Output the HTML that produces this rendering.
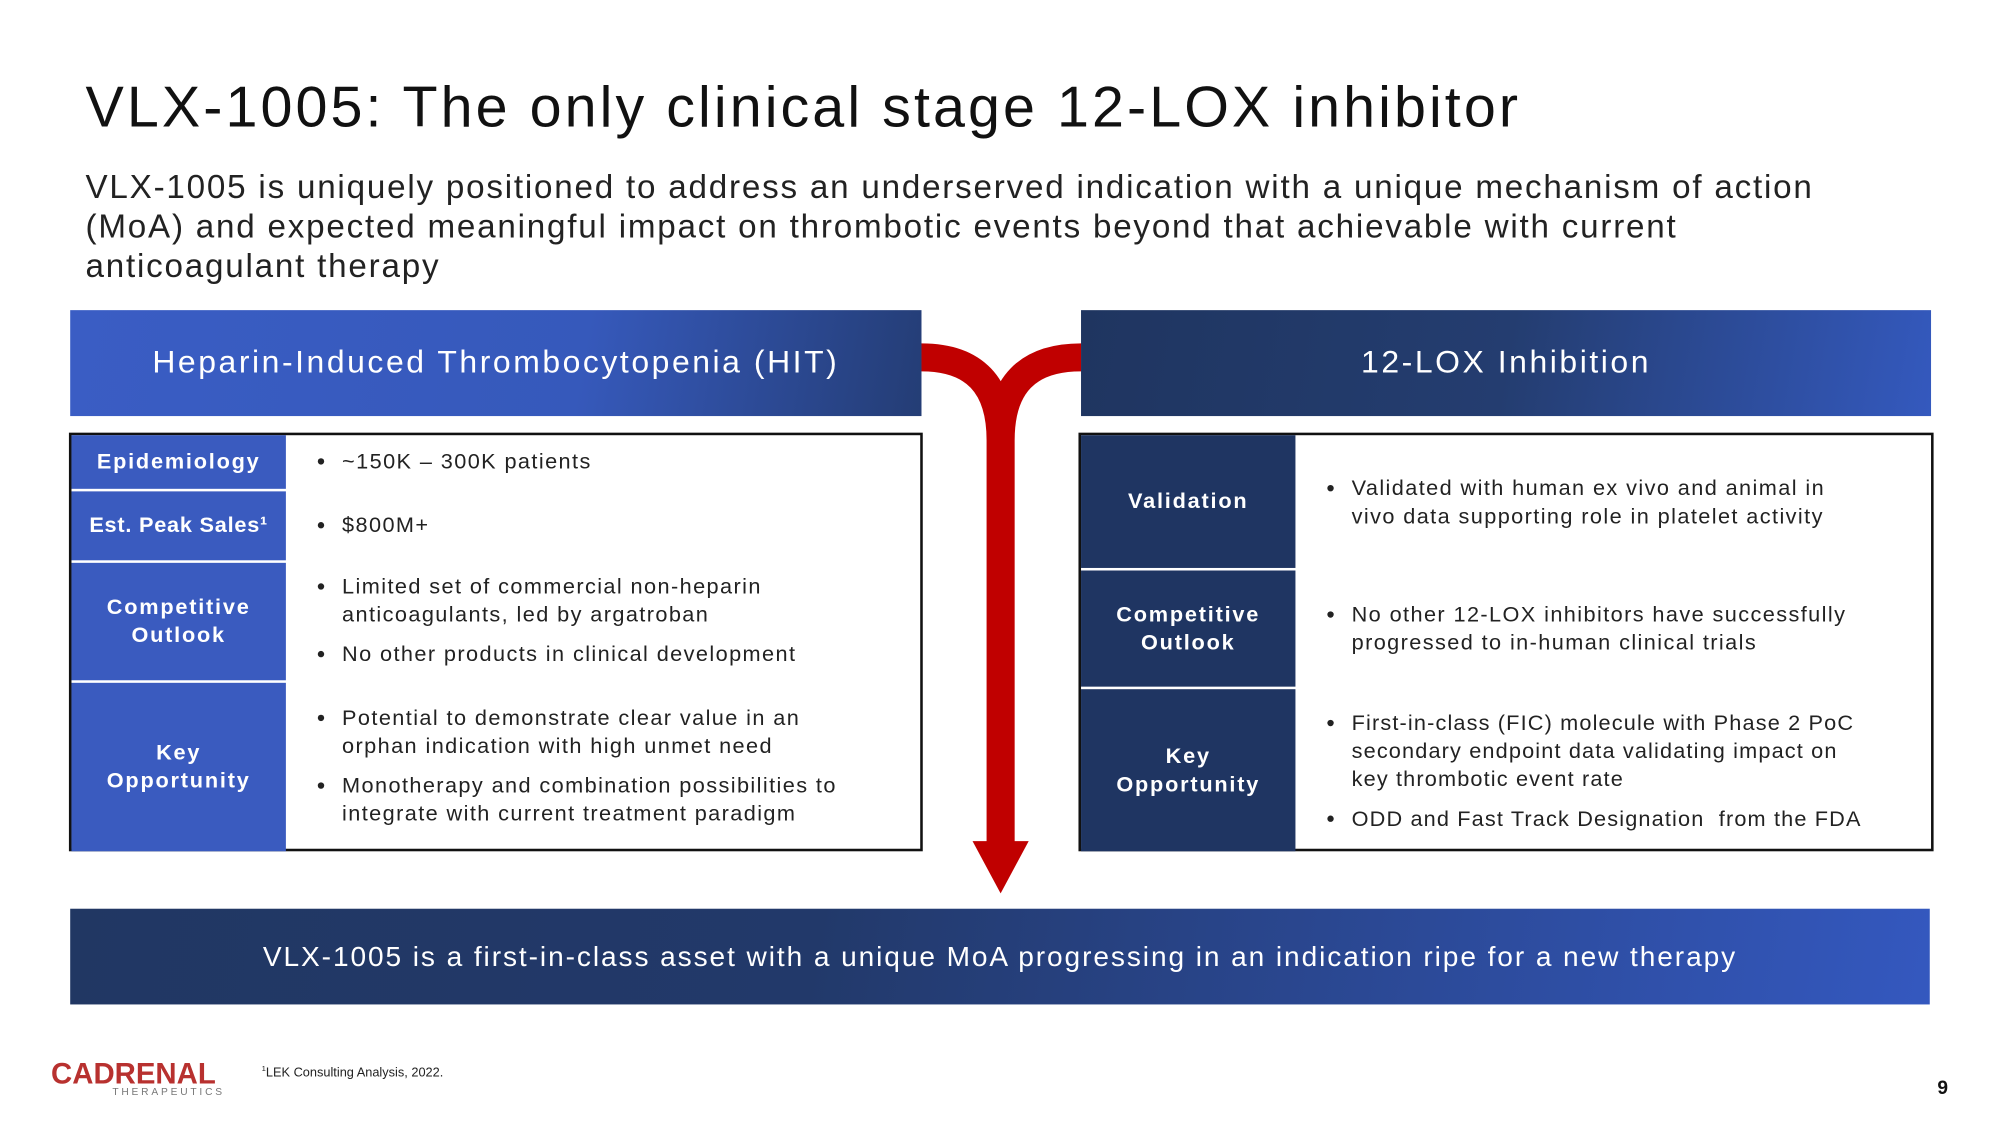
<!DOCTYPE html>
<html><head><meta charset="utf-8"><style>
html,body{margin:0;padding:0;background:#fff;width:2000px;height:1125px;overflow:hidden}
#s{position:absolute;left:0;top:0;width:1567px;height:882px;transform:scale(1.2763);transform-origin:0 0;font-family:"Liberation Sans",sans-serif;color:#111}
.a{position:absolute}
.h{color:#fff;font-size:25px;letter-spacing:2px;display:flex;align-items:center;justify-content:center}
.tb{position:absolute;border:2px solid #111;box-sizing:border-box;background:#fff}
.lab{position:absolute;left:0;color:#fff;font-weight:bold;font-size:17px;letter-spacing:1.4px;display:flex;align-items:center;justify-content:center;text-align:center;line-height:22px}
.txt{position:absolute;font-size:17px;line-height:22px;color:#222;letter-spacing:1.1px}
.txt ul{margin:0;padding:0 0 0 20px}
.txt li{margin:0 0 9px 0;padding-left:2px}
</style></head><body><div id="s">
<div class="a" style="left:67px;top:58px;font-size:45px;letter-spacing:2.4px;color:#111">VLX-1005: The only clinical stage 12-LOX inhibitor</div>
<div class="a" style="left:67px;top:131px;width:1400px;font-size:26px;letter-spacing:1.4px;line-height:31px;color:#222">VLX-1005 is uniquely positioned to address an underserved indication with a unique mechanism of action (MoA) and expected meaningful impact on thrombotic events beyond that achievable with current anticoagulant therapy</div>

<div class="a h" style="left:55px;top:243px;width:667px;height:83px;background:linear-gradient(100deg,#3a5dc4 0%,#3659bb 60%,#243d75 100%)">Heparin-Induced Thrombocytopenia (HIT)</div>
<div class="a h" style="left:847px;top:243px;width:666px;height:83px;background:linear-gradient(100deg,#1f3560 0%,#243d70 50%,#3459be 100%)">12-LOX Inhibition</div>

<svg class="a" style="left:0;top:0" width="1567" height="882">
<path d="M722,280 Q784,280 784,345 L784,662 M847,280 Q784,280 784,345" fill="none" stroke="#c00000" stroke-width="22"/>
<polygon points="762,659 806,659 784,700" fill="#c00000"/>
</svg>

<div class="tb" style="left:54px;top:339px;width:669px;height:328px">
<div class="lab" style="top:0;width:168px;height:42px;background:#3a5bbf">Epidemiology</div>
<div class="lab" style="top:44px;width:168px;height:54px;background:#3a5bbf;letter-spacing:0.6px">Est. Peak Sales¹</div>
<div class="lab" style="top:100px;width:168px;height:92px;background:#3a5bbf">Competitive<br>Outlook</div>
<div class="lab" style="top:194px;width:168px;height:132px;background:#3a5bbf">Key<br>Opportunity</div>
<div class="txt" style="left:190px;top:10px"><ul><li>~150K – 300K patients</li></ul></div>
<div class="txt" style="left:190px;top:60px"><ul><li>$800M+</li></ul></div>
<div class="txt" style="left:190px;top:108px;width:430px"><ul><li>Limited set of commercial non-heparin anticoagulants, led by argatroban</li><li>No other products in clinical development</li></ul></div>
<div class="txt" style="left:190px;top:211px;width:440px"><ul><li>Potential to demonstrate clear value in an orphan indication with high unmet need</li><li>Monotherapy and combination possibilities to integrate with current treatment paradigm</li></ul></div>
</div>

<div class="tb" style="left:845px;top:339px;width:670px;height:328px">
<div class="lab" style="top:0;width:168px;height:104px;background:#1f3562">Validation</div>
<div class="lab" style="top:106px;width:168px;height:91px;background:#1f3562">Competitive<br>Outlook</div>
<div class="lab" style="top:199px;width:168px;height:127px;background:#1f3562">Key<br>Opportunity</div>
<div class="txt" style="left:190px;top:31px;width:430px"><ul><li>Validated with human ex vivo and animal in vivo data supporting role in platelet activity</li></ul></div>
<div class="txt" style="left:190px;top:130px;width:440px"><ul><li>No other 12-LOX inhibitors have successfully progressed to in-human clinical trials</li></ul></div>
<div class="txt" style="left:190px;top:215px;width:425px;letter-spacing:0.9px"><ul><li>First-in-class (FIC) molecule with Phase 2 PoC secondary endpoint data validating impact on key thrombotic event rate</li><li>ODD and Fast Track Designation&nbsp; from the FDA</li></ul></div>
</div>

<div class="a h" style="left:55px;top:712px;width:1457px;height:75px;font-size:22px;letter-spacing:1.5px;background:linear-gradient(100deg,#213763 0%,#22396a 40%,#3458bf 100%)">VLX-1005 is a first-in-class asset with a unique MoA progressing in an indication ripe for a new therapy</div>

<div class="a" style="left:40px;top:828px;font-size:23px;font-weight:bold;color:#b8312f;letter-spacing:0px">CADRENAL</div>
<div class="a" style="left:88px;top:851px;font-size:8px;color:#777;letter-spacing:2.2px">THERAPEUTICS</div>
<div class="a" style="left:205px;top:835px;font-size:10px;color:#222"><sup style="font-size:6px">1</sup>LEK Consulting Analysis, 2022.</div>
<div class="a" style="left:1518px;top:844px;font-size:15px;font-weight:bold;color:#111">9</div>
</div></body></html>
